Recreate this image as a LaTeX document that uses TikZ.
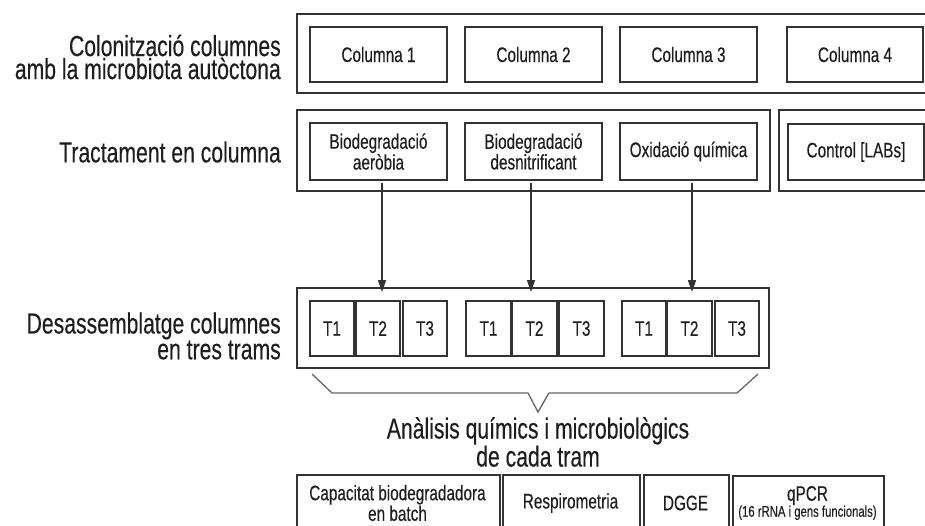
\documentclass[tikz,border=0pt]{standalone}
\usepackage{fontspec}
\setmainfont{Liberation Sans}[FakeStretch=0.73, FakeBold=0.25]
\usetikzlibrary{arrows.meta}
\definecolor{ink}{HTML}{1E1E1E}
\definecolor{edge}{HTML}{333333}
\definecolor{bracegray}{HTML}{666666}
\begin{document}
\begin{tikzpicture}[x=1pt,y=-1pt,
  frame/.style={draw=edge, line width=2pt, inner sep=0pt},
  cell/.style={draw=edge, line width=2pt, inner sep=0pt, align=center,
    text=ink, font=\fontsize{21}{16}\selectfont},
  colbox/.style={cell, minimum width=137pt, minimum height=55pt},
  tbox/.style={cell, minimum width=44pt, minimum height=55pt},
  label/.style={text=ink, align=right, anchor=east, inner sep=0pt,
    font=\fontsize{29}{23}\selectfont},
  flow/.style={draw=edge, line width=1.6pt, -{Triangle[length=12pt,width=8pt]}}]
\clip (0,0) rectangle (925,525);
\fill[white] (0,0) rectangle (925,525);

% row 1: colonisation
\node[frame, minimum width=640pt, minimum height=79pt] (r1out) at (617,53.5) {};
\node[colbox] (c1) at (378.5,54.5) {Columna 1};
\node[colbox] (c2) at (533.5,54.5) {Columna 2};
\node[colbox] (c3) at (688.5,54.5) {Columna 3};
\node[colbox, minimum width=136pt] (c4) at (855,54.5) {Columna 4};
\node[label] (l1) at (281,57) {Colonització columnes\\amb la microbiota autòctona};

% row 2: treatments
\node[frame, minimum width=473pt, minimum height=81pt] (r2out) at (533.5,150.5) {};
\node[frame, minimum width=160pt, minimum height=81pt] (r2ctl) at (859,150.5) {};
\node[colbox, minimum height=57pt] (b1) at (378.5,151.5) {Biodegradació\\aeròbia};
\node[colbox, minimum height=57pt] (b2) at (533.5,151.5) {Biodegradació\\desnitrificant};
\node[colbox, minimum height=57pt] (b3) at (688.5,151.5) {Oxidació química};
\node[colbox, minimum width=136pt, minimum height=56pt] (b4) at (856,152) {Control [LABs]};
\node[label] (l2) at (281,152) {Tractament en columna};

% row 3: sections of each column
\node[frame, minimum width=472pt, minimum height=80pt] (r3out) at (533,328) {};
\node[tbox] (g1a) at (332,328.5) {T1};
\node[tbox] (g1b) at (378,328.5) {T2};
\node[tbox] (g1c) at (425,328.5) {T3};
\node[tbox, minimum width=45pt] (g2a) at (488.5,328.5) {T1};
\node[tbox, minimum width=45pt] (g2b) at (534.5,328.5) {T2};
\node[tbox, minimum width=45pt] (g2c) at (581.5,328.5) {T3};
\node[tbox] (g3a) at (644,328.5) {T1};
\node[tbox, minimum width=45pt] (g3b) at (689.5,328.5) {T2};
\node[tbox] (g3c) at (737,328.5) {T3};
\node[label] (l3) at (281,336) {Desassemblatge columnes\\en tres trams};

% arrows from treatments to sections
\draw[flow] ([xshift=3.5pt,yshift=9pt]b1.south |- r2out.south) -- ([xshift=3.5pt,yshift=-5pt]b1.south |- r3out.north);
\draw[flow] ([xshift=-2.5pt,yshift=9pt]b2.south |- r2out.south) -- ([xshift=-2.5pt,yshift=-5pt]b2.south |- r3out.north);
\draw[flow] ([xshift=3.5pt,yshift=9pt]b3.south |- r2out.south) -- ([xshift=3.5pt,yshift=-5pt]b3.south |- r3out.north);

% brace gathering all sections
\draw[bracegray, line width=1.3pt, line join=miter]
  (312,374) -- (332,393) -- (528,393) -- (538,412) -- (549,393)
  -- (737,393) -- (758,374);

\node[text=ink, align=center, inner sep=0pt, font=\fontsize{29}{21}\selectfont]
  (an) at (538,442) {Anàlisis químics i microbiològics\\de cada tram};

% row 4: analyses
\node[cell, anchor=north west, minimum width=203pt, minimum height=70pt] (a1) at (296,474) {};
\node[cell, anchor=north west, minimum width=137pt, minimum height=70pt] (a2) at (502,474) {};
\node[cell, anchor=north west, minimum width=85pt, minimum height=70pt] (a3) at (643,474) {};
\node[cell, anchor=north west, minimum width=151pt, minimum height=70pt] (a4) at (732,475) {};
\node[text=ink, align=center, inner sep=0pt, font=\fontsize{21}{19}\selectfont]
  at (397.5,503) {Capacitat biodegradadora\\en batch};
\node[text=ink, inner sep=0pt, font=\fontsize{21}{19}\selectfont] at (570.5,503) {Respirometria};
\node[text=ink, inner sep=0pt, font=\fontsize{21}{19}\selectfont] at (685.5,503) {DGGE};
\node[text=ink, align=center, inner sep=0pt, font=\fontsize{21}{16}\selectfont]
  at (807.5,503) {qPCR\\{\fontsize{15.5}{14}\selectfont (16 rRNA i gens funcionals)}};
\end{tikzpicture}
\end{document}
